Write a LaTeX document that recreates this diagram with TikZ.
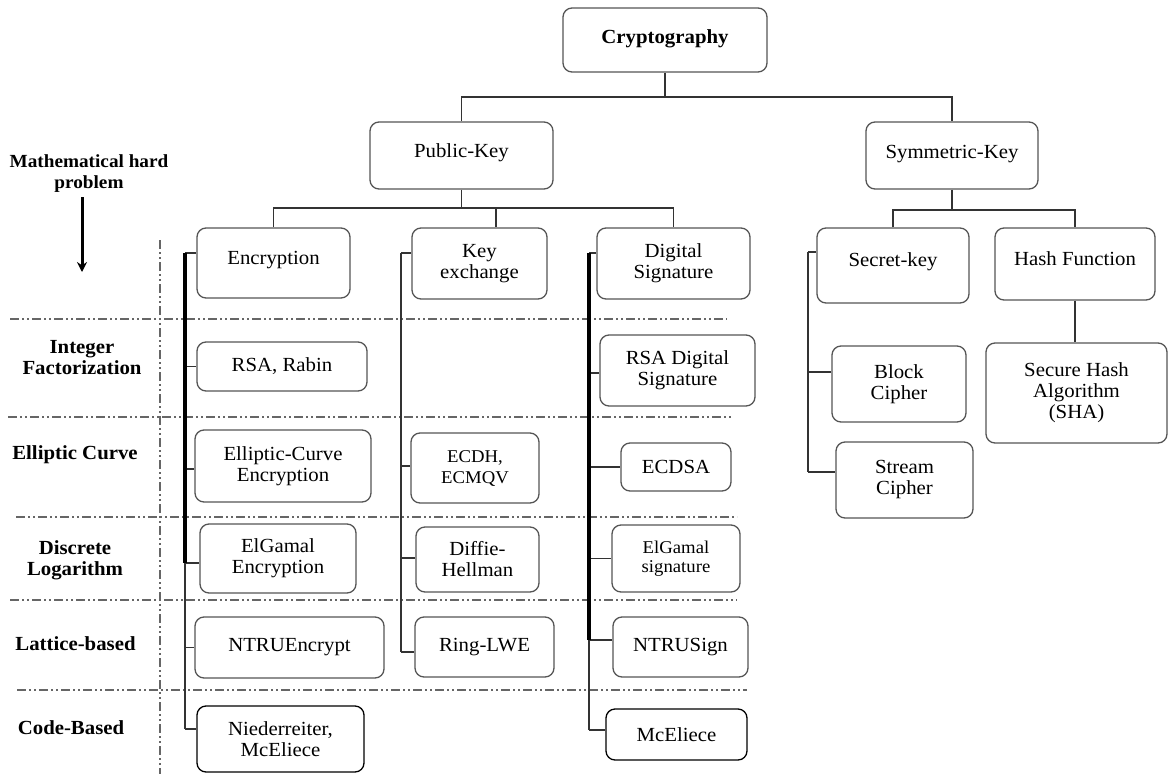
\documentclass[tikz,border=0pt]{standalone}
\usepackage{fontspec}
\setmainfont{Liberation Serif}[FakeStretch=1.04]
\usetikzlibrary{arrows.meta}
\definecolor{boxgray}{HTML}{555555}
\definecolor{linegray}{HTML}{333333}
\definecolor{dashgray}{HTML}{666666}
\begin{document}
\begin{tikzpicture}[x=1pt,y=-1pt,
  box/.style={draw=boxgray, line width=1.3pt, rounded corners=9pt, inner sep=0pt, align=center,
    font=\fontsize{20}{21}\selectfont},
  darkbox/.style={box, draw=black},
  wh/.style 2 args={minimum width=#1pt, minimum height=#2pt},
  lbl/.style={align=center, inner sep=0pt, font=\bfseries\fontsize{20}{21}\selectfont},
  conn/.style={draw=linegray, line width=1.3pt},
  trunk/.style={draw=black, line width=3.4pt},
  dd/.style={draw=dashgray, line width=1.2pt, dash pattern=on 9pt off 3pt on 2pt off 3pt on 2pt off 3pt}
]
\useasboundingbox (0,0) rectangle (1168,774);

% separator lines
\draw[dd] (160,240) -- (160,774);
\draw[dd] (10,319) -- (727,319);
\draw[dd] (8,417) -- (732,417);
\draw[dd] (16,517) -- (737,517);
\draw[dd] (10,600) -- (737,600);
\draw[dd] (17,690) -- (747,690);

% left labels
\node[lbl, font=\bfseries\fontsize{18.5}{21}\selectfont] (mhp) at (89,174) {Mathematical hard\\problem};
\node[lbl] (intf) at (82,358) {Integer\\Factorization};
\node[lbl] (ell) at (75,455) {Elliptic Curve};
\node[lbl] (dlog) at (75,560) {Discrete\\Logarithm};
\node[lbl] (lat) at (75.5,644) {Lattice-based};
\node[lbl] (code) at (71,728) {Code-Based};
\coordinate (arrS) at (82,197);
\coordinate (arrE) at (82,272);
\draw[black, line width=3pt, -{Stealth[length=10pt,width=10pt]}] (arrS) -- (arrE);

% top levels
\node[box, wh={204}{64}, font=\bfseries\fontsize{20}{21}\selectfont, text depth=7pt] (crypto) at (665,40) {Cryptography};
\node[box, wh={183}{67}, text depth=10pt] (pub) at (461.5,155.5) {Public-Key};
\node[box, wh={172}{67}, text depth=7pt] (sym) at (952,155.5) {Symmetric-Key};

\node[box, wh={153}{70}, text depth=11pt] (enc) at (273.5,263) {Encryption};
\node[box, wh={135}{71}] (kex) at (479.5,263.5) {Key\\exchange};
\node[box, wh={153}{71}] (dsig) at (673.5,263.5) {Digital\\Signature};
\node[box, wh={152}{75}, text depth=11pt] (sec) at (893,265.5) {Secret-key};
\node[box, wh={160}{72}, text depth=10pt] (hash) at (1075,264) {Hash Function};

% encryption column
\node[box, wh={170}{49}] (rsa) at (282,366.5) {RSA, Rabin};
\node[box, wh={176}{72}] (ecc) at (283,466) {Elliptic-Curve\\Encryption};
\node[box, wh={156}{69}] (elg) at (278,558.5) {ElGamal\\Encryption};
\node[box, wh={189}{61}] (ntru) at (289.5,647.5) {NTRUEncrypt};
\node[darkbox, wh={167}{66}] (nied) at (280.5,739) {Niederreiter,\\McEliece};

% key exchange column
\node[box, wh={128}{70}, font=\fontsize{18}{21}\selectfont] (ecdh) at (475,468) {ECDH,\\ECMQV};
\node[box, wh={123}{65}] (dh) at (477.5,559.5) {Diffie-\\Hellman};
\node[box, wh={139}{60}] (rlwe) at (484.5,647) {Ring-LWE};

% signature column
\node[box, wh={155}{71}] (rsads) at (677.5,370.5) {RSA Digital\\Signature};
\node[box, wh={110}{48}] (ecdsa) at (676,467) {ECDSA};
\node[box, wh={128}{67}, font=\fontsize{18}{19}\selectfont] (elgs) at (676,558.5) {ElGamal\\signature};
\node[box, wh={135}{60}] (ntrus) at (680.5,647) {NTRUSign};
\node[darkbox, wh={141}{51}] (mce) at (676.5,734.5) {McEliece};

% symmetric side
\node[box, wh={134}{76}] (block) at (899,384) {Block\\Cipher};
\node[box, wh={137}{76}] (stream) at (904.5,480) {Stream\\Cipher};
\node[box, wh={181}{100}] (sha) at (1076.5,393) {Secure Hash\\Algorithm\\(SHA)};

% tree connectors
\coordinate (cj) at (665,97);
\draw[conn] (crypto.south) -- (cj);
\draw[conn] (pub.north) |- (cj) -| (sym.north);

\coordinate (pj) at (461.5,208);
\coordinate (kt) at (496,208);
\draw[conn] (pub.south) -- (pj);
\draw[conn] (enc.north) |- (pj) -| (dsig.north);
\draw[conn] (kt) -- (kt |- kex.north);

\coordinate (sj) at (952,210);
\draw[conn] (sym.south) -- (sj);
\draw[conn] (sec.north) |- (sj) -| (hash.north);
\draw[conn] (hash.south) -- (hash.south |- sha.north);

% encryption trunk
\coordinate (encB) at ([yshift=10pt]enc.west);
\coordinate (eccB) at ([yshift=-3pt]ecc.west);
\coordinate (elgB) at ([yshift=-4.5pt]elg.west);
\coordinate (niedB) at ([yshift=10pt]nied.west);
\coordinate (encT) at (185,0);
\draw[conn] (encT |- niedB) -- (niedB);
\draw[conn] (encT |- encB) -- (encB);
\draw[conn] (encT |- rsa.west) -- (rsa.west);
\draw[conn] (encT |- eccB) -- (eccB);
\draw[conn] (encT |- elgB) -- (elgB);
\draw[conn] (encT |- ntru.west) -- (ntru.west);
\draw[conn] (encT |- elgB) -- (encT |- niedB);
\draw[trunk] (encT |- encB) -- (encT |- elgB);

% key exchange trunk
\coordinate (kexB) at ([yshift=10.5pt]kex.west);
\coordinate (ecdhB) at ([yshift=2pt]ecdh.west);
\coordinate (dhB) at ([yshift=1.5pt]dh.west);
\coordinate (rlweB) at ([yshift=-5pt]rlwe.west);
\coordinate (kexT) at (401,0);
\draw[conn] (kexT |- kexB) -- (kexB);
\draw[conn] (kexT |- ecdhB) -- (ecdhB);
\draw[conn] (kexT |- dhB) -- (dhB);
\draw[conn] (kexT |- rlweB) -- (rlweB);
\draw[conn] (kexT |- kexB) -- (kexT |- rlweB);

% signature trunk
\coordinate (dsigB) at ([yshift=10.5pt]dsig.west);
\coordinate (rsadsB) at ([yshift=-2.5pt]rsads.west);
\coordinate (ntrusB) at ([yshift=7pt]ntrus.west);
\coordinate (mceB) at ([yshift=4.5pt]mce.west);
\coordinate (dsT) at (589,0);
\draw[conn] (dsT |- dsigB) -- (dsigB);
\draw[conn] (dsT |- rsadsB) -- (rsadsB);
\draw[conn] (dsT |- ecdsa.west) -- (ecdsa.west);
\draw[conn] (dsT |- elgs.west) -- (elgs.west);
\draw[conn] (dsT |- ntrusB) -- (ntrusB);
\draw[conn] (dsT |- mceB) -- (mceB);
\draw[conn] (dsT |- ntrusB) -- (dsT |- mceB);
\draw[trunk] (dsT |- dsigB) -- (dsT |- ntrusB);

% secret-key trunk
\coordinate (secB) at ([yshift=13.5pt]sec.west);
\coordinate (blockB) at ([yshift=12pt]block.west);
\coordinate (streamB) at ([yshift=8pt]stream.west);
\coordinate (secT) at (808,0);
\draw[conn] (secT |- secB) -- (secB);
\draw[conn] (secT |- blockB) -- (blockB);
\draw[conn] (secT |- streamB) -- (streamB);
\draw[conn] (secT |- secB) -- (secT |- streamB);
\end{tikzpicture}
\end{document}
